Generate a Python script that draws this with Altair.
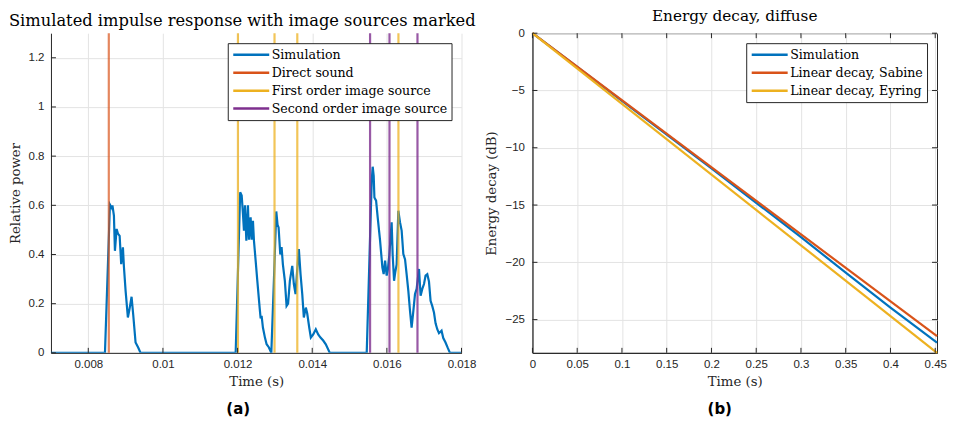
import altair as alt
import pandas as pd

# ---------------- Left panel data ----------------
p1_t = [0.007, 0.008447, 0.008580, 0.008626, 0.008647, 0.008687, 0.008714, 0.008759, 0.008794,
        0.008840, 0.008882, 0.008928, 0.008955, 0.009000, 0.009061, 0.009107, 0.009160, 0.009203,
        0.009267, 0.009337, 0.009401]
p1_y = [0, 0, 0.603, 0.59, 0.60, 0.558, 0.415, 0.504, 0.485, 0.476, 0.361, 0.429, 0.35, 0.252,
        0.144, 0.18, 0.228, 0.157, 0.042, 0.022, 0]
p2_t = [0.011949, 0.012070, 0.012110, 0.012144, 0.012171, 0.012198, 0.012235, 0.012278, 0.012305,
        0.012350, 0.012377, 0.012412, 0.012439, 0.012484, 0.012529, 0.012591, 0.012618, 0.012644,
        0.012679, 0.012733, 0.012778, 0.012840, 0.012904]
p2_y = [0, 0.653, 0.64, 0.565, 0.497, 0.6, 0.456, 0.6, 0.46, 0.551, 0.46, 0.537, 0.456, 0.375,
        0.293, 0.184, 0.14, 0.15, 0.103, 0.062, 0.035, 0.022, 0]
p3_t = [0.012973, 0.013037, 0.013072, 0.013099, 0.013144, 0.013179, 0.013214, 0.013267, 0.013313,
        0.013353, 0.013401, 0.013465, 0.013508, 0.013553, 0.013594, 0.013642, 0.013687, 0.013733,
        0.013775, 0.013829, 0.013866, 0.013920, 0.013963, 0.014027, 0.014096, 0.014160, 0.014222,
        0.014294, 0.014364, 0.014471]
p3_y = [0.293, 0.575, 0.52, 0.51, 0.40, 0.43, 0.36, 0.293, 0.191, 0.2, 0.293, 0.354, 0.28, 0.239,
        0.33, 0.422, 0.32, 0.239, 0.144, 0.184, 0.16, 0.103, 0.062, 0.075, 0.096, 0.075, 0.062,
        0.05, 0.035, 0]
p4_t = [0.015460, 0.015594, 0.015620, 0.015647, 0.015666, 0.015711, 0.015754, 0.015818, 0.015880,
        0.015914, 0.015952, 0.015995, 0.016027, 0.016067, 0.016128, 0.016155, 0.016193, 0.016227,
        0.016262, 0.016307, 0.016353, 0.016396, 0.016441, 0.016487, 0.016529, 0.016575, 0.016620,
        0.016663, 0.016709, 0.016754, 0.016797, 0.016861, 0.016904, 0.016949, 0.016995, 0.017037,
        0.017083, 0.017128, 0.017171, 0.017217, 0.017262, 0.017305, 0.017350, 0.017396, 0.017465,
        0.017511, 0.017572, 0.017626, 0.017690, 0.018000]
p4_y = [0, 0.70, 0.757, 0.72, 0.632, 0.619, 0.551, 0.456, 0.347, 0.32, 0.375, 0.314, 0.34, 0.40,
        0.531, 0.40, 0.293, 0.33, 0.36, 0.578, 0.53, 0.497, 0.402, 0.38, 0.32, 0.252, 0.171, 0.103,
        0.17, 0.239, 0.26, 0.341, 0.232, 0.26, 0.28, 0.314, 0.32, 0.29, 0.212, 0.19, 0.164, 0.12,
        0.096, 0.08, 0.09, 0.06, 0.042, 0.022, 0, 0]

direct_t = [0.00855]
first_t = [0.01201, 0.01299, 0.01360, 0.01631]
second_t = [0.01555, 0.01607, 0.01682]

left_series = ["Simulation", "Direct sound", "First order image source", "Second order image source"]
left_colors = ["#0072BD", "#D95319", "#EDB120", "#7E2F8E"]
left_xticks = [0.008, 0.010, 0.012, 0.014, 0.016, 0.018]
left_yticks = [0, 0.2, 0.4, 0.6, 0.8, 1.0, 1.2]

# ---------------- Right panel data ----------------
sim_t = [0, 0.05, 0.1, 0.15, 0.2, 0.25, 0.3, 0.35, 0.4, 0.452]
sim_db = [0, -2.95, -5.9, -8.85, -11.8, -14.8, -17.8, -20.9, -23.95, -27.0]
sab_t = [0, 0.452]
sab_db = [0, -26.45]
eyr_t = [0, 0.452]
eyr_db = [0, -27.9]

right_series = ["Simulation", "Linear decay, Sabine", "Linear decay, Eyring"]
right_colors = ["#0072BD", "#D95319", "#EDB120"]
right_xticks = [0, 0.05, 0.1, 0.15, 0.2, 0.25, 0.3, 0.35, 0.4, 0.45]
right_yticks = [0, -5, -10, -15, -20, -25]

SERIF = "DejaVu Serif"
SANS = "Liberation Sans"
AX = "#262626"
GRID = "#e3e3e3"
W1, H = 411, 320
W2 = 405
TK = 5

def axis(values, title, lpad, tpad):
    return alt.Axis(values=values, title=title, format="~g", grid=True, gridColor=GRID,
                    domainColor=AX, labelColor=AX, labelFont=SANS, labelFontSize=11.5,
                    labelFlush=False, labelOverlap=False,
                    tickSize=0, labelPadding=lpad, titleFont=SERIF, titleFontSize=13.3,
                    titleFontWeight="normal", titleColor=AX, titlePadding=tpad)

def legend():
    return alt.Legend(title=None, orient="top-right", offset=10, strokeColor=AX, fillColor="white",
                      padding=4, labelFont=SERIF, labelFontSize=12.6, labelColor="black",
                      symbolType="M-1,0H5", symbolSize=144, symbolStrokeWidth=2.5,
                      rowPadding=3, labelLimit=400, labelOffset=25)

# ---------- Left chart ----------
sim_df = pd.DataFrame({"t": p1_t + p2_t + p3_t + p4_t, "p": p1_y + p2_y + p3_y + p4_y,
                       "s": "Simulation"})
rules_df = pd.DataFrame({
    "t": direct_t + first_t + second_t,
    "s": ["Direct sound"] * len(direct_t) + ["First order image source"] * len(first_t)
         + ["Second order image source"] * len(second_t),
})
xs1 = alt.Scale(domain=[0.007, 0.018], nice=False, zero=False)
ys1 = alt.Scale(domain=[0, 1.3], nice=False)
cs1 = alt.Scale(domain=left_series, range=left_colors)

l_line = alt.Chart(sim_df).mark_line(strokeWidth=2.2, clip=True).encode(
    x=alt.X("t:Q", scale=xs1, axis=axis(left_xticks, "Time (s)", 6, 4)),
    y=alt.Y("p:Q", scale=ys1, axis=axis(left_yticks, "Relative power", 7, 6)),
    color=alt.Color("s:N", scale=cs1, legend=legend()),
    order=alt.Order("t:Q"),
)
l_rules = alt.Chart(rules_df).mark_rule(strokeWidth=2.2).encode(
    x=alt.X("t:Q", scale=xs1),
    color=alt.Color("s:N", scale=cs1),
    opacity=alt.Opacity("s:N", scale=alt.Scale(domain=left_series[1:], range=[0.7, 0.8, 0.95]),
                        legend=None),
)
l_xt = alt.Chart(pd.DataFrame({"v": left_xticks})).mark_rule(color=AX, strokeWidth=1).encode(
    x=alt.X("v:Q", scale=xs1), y=alt.value(H), y2=alt.value(H - TK))
l_yt = alt.Chart(pd.DataFrame({"v": left_yticks})).mark_rule(color=AX, strokeWidth=1).encode(
    y=alt.Y("v:Q", scale=ys1), x=alt.value(0), x2=alt.value(TK))
l_cap = alt.Chart(pd.DataFrame({"c": ["(a)"]})).mark_text(
    font="DejaVu Sans", fontWeight="bold", fontSize=15, color="black").encode(
    text="c:N", x=alt.value(W1 / 2 - 18), y=alt.value(H + 56))

left = alt.layer(l_line, l_rules, l_xt, l_yt, l_cap).properties(
    width=W1, height=H,
    title=alt.TitleParams("Simulated impulse response with image sources marked", font=SERIF,
                          fontSize=16.3, fontWeight="normal", color="black", offset=3, dx=-14),
    view=alt.ViewBackground(stroke=None),
)

# ---------- Right chart ----------
r_df = pd.concat([
    pd.DataFrame({"t": sim_t, "d": sim_db, "s": "Simulation", "k": 0}),
    pd.DataFrame({"t": sab_t, "d": sab_db, "s": "Linear decay, Sabine", "k": 1}),
    pd.DataFrame({"t": eyr_t, "d": eyr_db, "s": "Linear decay, Eyring", "k": 2}),
])
xs2 = alt.Scale(domain=[0, 0.452], nice=False)
ys2 = alt.Scale(domain=[-27.9, 0], nice=False, zero=False)
cs2 = alt.Scale(domain=right_series, range=right_colors)

r_line = alt.Chart(r_df).mark_line(strokeWidth=2.2).encode(
    x=alt.X("t:Q", scale=xs2, axis=axis(right_xticks, "Time (s)", 6, 4)),
    y=alt.Y("d:Q", scale=ys2, axis=axis(right_yticks, "Energy decay (dB)", 8, 6)),
    color=alt.Color("s:N", scale=cs2, legend=legend(), sort=right_series),
    detail="k:N",
    order=alt.Order("t:Q"),
)
r_xt_b = alt.Chart(pd.DataFrame({"v": right_xticks})).mark_rule(color=AX, strokeWidth=1).encode(
    x=alt.X("v:Q", scale=xs2), y=alt.value(H), y2=alt.value(H - TK))
r_xt_t = alt.Chart(pd.DataFrame({"v": right_xticks})).mark_rule(color=AX, strokeWidth=1).encode(
    x=alt.X("v:Q", scale=xs2), y=alt.value(0), y2=alt.value(TK))
r_yt_l = alt.Chart(pd.DataFrame({"v": right_yticks})).mark_rule(color=AX, strokeWidth=1).encode(
    y=alt.Y("v:Q", scale=ys2), x=alt.value(0), x2=alt.value(TK))
r_yt_r = alt.Chart(pd.DataFrame({"v": right_yticks})).mark_rule(color=AX, strokeWidth=1).encode(
    y=alt.Y("v:Q", scale=ys2), x=alt.value(W2), x2=alt.value(W2 - TK))
r_cap = alt.Chart(pd.DataFrame({"c": ["(b)"]})).mark_text(
    font="DejaVu Sans", fontWeight="bold", fontSize=15, color="black").encode(
    text="c:N", x=alt.value(W2 / 2 - 15), y=alt.value(H + 56))

right = alt.layer(r_line, r_xt_b, r_xt_t, r_yt_l, r_yt_r, r_cap).properties(
    width=W2, height=H,
    title=alt.TitleParams("Energy decay, diffuse", font=SERIF, fontSize=15.3,
                          fontWeight="normal", color="black", offset=3),
    view=alt.ViewBackground(stroke=AX, strokeWidth=1),
)

chart = alt.hconcat(left, right, spacing=7).resolve_scale(color="independent").configure(
    background="white", padding=0,
)

chart.save("out.html", embed_options={"renderer": "svg", "actions": False})
